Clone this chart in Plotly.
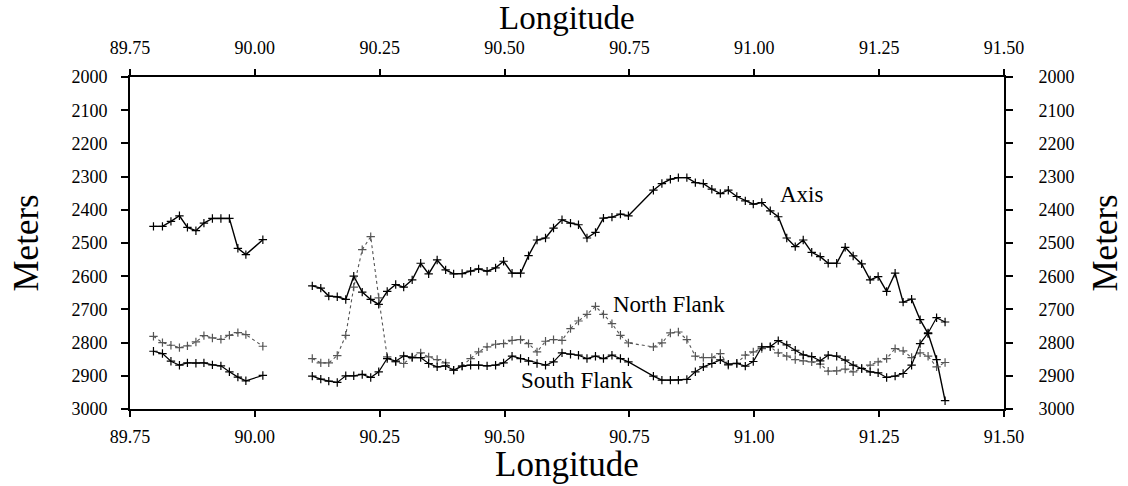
import plotly.graph_objects as go

# ---- data (longitude in degrees, depth in meters) ----
LON_WEST = [89.797, 89.815, 89.832, 89.849, 89.865, 89.882, 89.898, 89.915,
            89.932, 89.949, 89.966, 89.982, 90.016]
AXIS_WEST = [2450, 2450, 2435, 2418, 2453, 2463, 2440, 2426, 2426, 2426, 2516, 2535, 2490]
NORTH_WEST = [2781, 2800, 2808, 2815, 2810, 2798, 2779, 2786, 2790, 2778, 2770, 2776, 2811]
SOUTH_WEST = [2826, 2833, 2856, 2868, 2861, 2862, 2861, 2867, 2870, 2888, 2904, 2915, 2899]

LON_EAST = [90.115, 90.132, 90.148, 90.165, 90.182, 90.198, 90.215, 90.232, 90.248, 90.265,
            90.282, 90.298, 90.315, 90.332, 90.348, 90.365, 90.382, 90.398, 90.415, 90.432,
            90.448, 90.465, 90.482, 90.498, 90.515, 90.532, 90.548, 90.565, 90.582, 90.598,
            90.615, 90.632, 90.648, 90.665, 90.682, 90.698, 90.715, 90.732, 90.748,
            90.798, 90.815, 90.832, 90.848, 90.865, 90.882, 90.898, 90.915, 90.932, 90.948,
            90.965, 90.982, 90.998, 91.015, 91.032, 91.048, 91.065, 91.082, 91.098, 91.115,
            91.132, 91.148, 91.165, 91.182, 91.198, 91.215, 91.232, 91.248, 91.265, 91.282,
            91.298, 91.315, 91.332, 91.348, 91.365, 91.382]
AXIS_EAST = [2629, 2636, 2660, 2662, 2670, 2600, 2648, 2670, 2685, 2646,
             2625, 2633, 2611, 2561, 2593, 2551, 2581, 2593, 2592, 2585,
             2578, 2585, 2575, 2555, 2591, 2591, 2538, 2491, 2485, 2455,
             2430, 2440, 2445, 2485, 2468, 2425, 2422, 2413, 2418,
             2341, 2321, 2308, 2303, 2303, 2318, 2321, 2338, 2351, 2341,
             2360, 2373, 2383, 2378, 2403, 2421, 2485, 2511, 2491, 2528,
             2541, 2561, 2561, 2513, 2539, 2563, 2611, 2601, 2646, 2591,
             2678, 2669, 2731, 2773, 2851, 2975]
NORTH_EAST = [2848, 2861, 2861, 2839, 2778, 2633, 2520, 2481, 2665, 2843,
              2858, 2863, 2843, 2831, 2843, 2851, 2861, 2883, 2871, 2848,
              2828, 2813, 2805, 2803, 2793, 2791, 2803, 2828, 2796, 2791,
              2793, 2758, 2735, 2715, 2691, 2715, 2743, 2778, 2801,
              2813, 2801, 2771, 2768, 2791, 2841, 2845, 2845, 2833, 2868,
              2862, 2838, 2828, 2818, 2813, 2831, 2841, 2851, 2855, 2858,
              2865, 2886, 2885, 2880, 2888, 2878, 2868, 2858, 2848, 2818,
              2825, 2845, 2831, 2841, 2873, 2860]
SOUTH_EAST = [2901, 2910, 2916, 2920, 2900, 2900, 2896, 2905, 2888, 2848,
              2856, 2840, 2845, 2845, 2863, 2873, 2870, 2883, 2871, 2868,
              2868, 2870, 2868, 2861, 2841, 2848, 2856, 2863, 2868, 2858,
              2831, 2835, 2838, 2848, 2841, 2848, 2838, 2848, 2858,
              2901, 2913, 2913, 2913, 2911, 2888, 2873, 2863, 2852, 2865,
              2863, 2871, 2857, 2813, 2812, 2794, 2807, 2823, 2837, 2842,
              2855, 2838, 2841, 2853, 2868, 2878, 2888, 2891, 2905, 2901,
              2893, 2868, 2803, 2771, 2725, 2738]

X_TICKS = [89.75, 90.00, 90.25, 90.50, 90.75, 91.00, 91.25, 91.50]
X_TICK_TEXT = ["89.75", "90.00", "90.25", "90.50", "90.75", "91.00", "91.25", "91.50"]
Y_TICKS = [2000, 2100, 2200, 2300, 2400, 2500, 2600, 2700, 2800, 2900, 3000]

LABELS = {"Axis": (91.095, 2353), "North Flank": (90.829, 2684), "South Flank": (90.645, 2913)}

# ---- figure ----
FONT = "Liberation Serif"
lon_all = LON_WEST + [None] + LON_EAST


def series(west, east):
    return west + [None] + east


fig = go.Figure()
styles = [
    ("Axis", series(AXIS_WEST, AXIS_EAST), dict(color="black", width=1.4, dash="solid"), "black"),
    ("North Flank", series(NORTH_WEST, NORTH_EAST), dict(color="#555555", width=1.1, dash="dot"), "#555555"),
    ("South Flank", series(SOUTH_WEST, SOUTH_EAST), dict(color="black", width=1.2, dash="solid"), "black"),
]
for name, vals, line, mcol in styles:
    fig.add_trace(go.Scatter(
        x=lon_all, y=vals, mode="lines+markers", name=name, connectgaps=False,
        line=line,
        marker=dict(symbol="cross-thin", size=6, line=dict(width=1.2, color=mcol)),
        showlegend=False, xaxis="x", yaxis="y",
    ))

# invisible helper so the top/right axes render
fig.add_trace(go.Scatter(x=[None], y=[None], xaxis="x2", yaxis="y2", showlegend=False, hoverinfo="skip"))

tickfont = dict(family=FONT, size=18, color="black")
common_x = dict(range=[89.75, 91.5], tickmode="array", tickvals=X_TICKS, ticktext=X_TICK_TEXT,
                ticks="outside", ticklen=6, tickwidth=1.5, tickcolor="black",
                showline=True, linewidth=2, linecolor="black", showgrid=False, zeroline=False,
                tickfont=tickfont)
common_y = dict(range=[3000, 2000], tickmode="array", tickvals=Y_TICKS,
                ticks="outside", ticklen=7, tickwidth=1.5, tickcolor="black",
                showline=True, linewidth=2, linecolor="black", showgrid=False, zeroline=False,
                tickfont=tickfont)

fig.update_layout(
    width=1128, height=486,
    margin=dict(l=130, r=124, t=77, b=77),
    paper_bgcolor="white", plot_bgcolor="white",
    font=dict(family=FONT, color="black"),
    xaxis=dict(**common_x, side="bottom", ticklabelstandoff=4),
    xaxis2=dict(**common_x, side="top", overlaying="x", anchor="y", ticklabelstandoff=8),
    yaxis=dict(**common_y, side="left", ticklabelstandoff=10),
    yaxis2=dict(**common_y, side="right", overlaying="y", anchor="x", ticklabelstandoff=22),
)

ann = []
for text, (lx, ly) in LABELS.items():
    ann.append(dict(x=lx, y=ly, xref="x", yref="y", text=text, showarrow=False,
                    font=dict(family=FONT, size=23, color="black"), xanchor="center", yanchor="middle"))
ann += [
    dict(x=0.5, y=1, xref="paper", yref="paper", text="Longitude", showarrow=False,
         font=dict(family=FONT, size=33, color="black"), yanchor="top", yshift=78, borderpad=0),
    dict(x=0.5, y=0, xref="paper", yref="paper", text="Longitude", showarrow=False,
         font=dict(family=FONT, size=35, color="black"), yanchor="bottom", yshift=-77),
    dict(x=0, y=0.5, xref="paper", yref="paper", text="Meters", showarrow=False, textangle=-90,
         font=dict(family=FONT, size=35, color="black"), xanchor="left", xshift=-126),
    dict(x=1, y=0.5, xref="paper", yref="paper", text="Meters", showarrow=False, textangle=-90,
         font=dict(family=FONT, size=35, color="black"), xanchor="right", xshift=122),
]
fig.update_layout(annotations=ann)

fig.write_html("out.html")
